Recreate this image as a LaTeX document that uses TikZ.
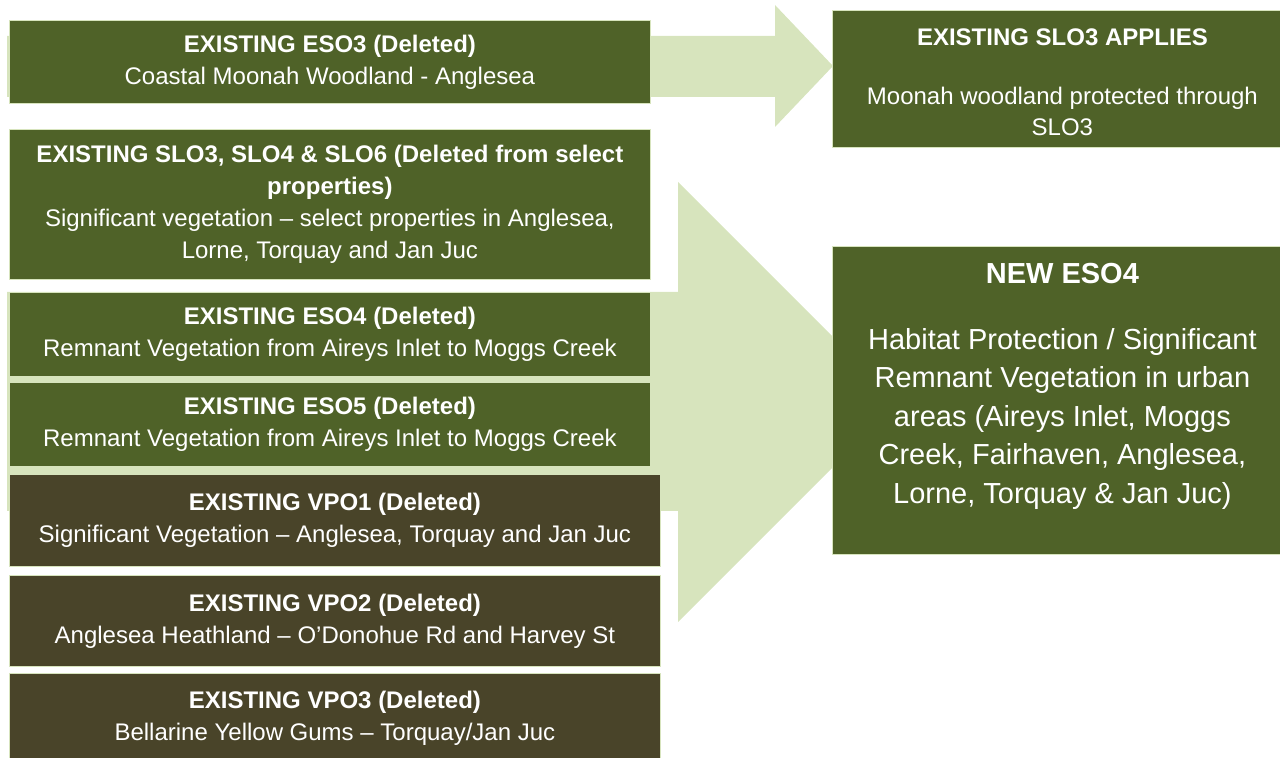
\documentclass[tikz,border=0pt]{standalone}
\usepackage{fontspec}
\setmainfont{Liberation Sans}

\definecolor{olivebox}{HTML}{4F6228}
\definecolor{brownbox}{HTML}{494429}
\definecolor{arrowfill}{HTML}{D7E4BD}

\begin{document}
\begin{tikzpicture}[x=0.5pt,y=-0.5pt,
    box/.style={rectangle,fill=olivebox,draw=arrowfill,line width=0.4pt,
        text=white,align=center,inner sep=0pt,anchor=north west,
        font=\fontsize{12}{16}\selectfont},
    vpobox/.style={box,fill=brownbox}]
    \useasboundingbox (0,0) rectangle (1280,758);
    \clip (0,0) rectangle (1280,758);

    % block arrows
    \fill[arrowfill] (7,36) -- (775,36) -- (775,5) -- (833,66)
        -- (775,127) -- (775,97) -- (7,97) -- cycle;
    \fill[arrowfill] (7,292) -- (678,292) -- (678,182) -- (898,402)
        -- (678,622) -- (678,511) -- (7,511) -- cycle;

    % overlays being deleted
    \node[box,minimum width=320.5pt,minimum height=41.5pt] (eso3) at (9,20)
        {\textbf{EXISTING ESO3 (Deleted)}\\ Coastal Moonah Woodland - Anglesea};
    \node[box,minimum width=320.5pt,minimum height=75pt] (slo) at (9,129)
        {\textbf{EXISTING SLO3, SLO4 \& SLO6 (Deleted from select}\\
         \textbf{properties)}\\
         Significant vegetation – select properties in Anglesea,\\
         Lorne, Torquay and Jan Juc};
    \node[box,minimum width=320.5pt,minimum height=42pt] (eso4) at (9,292)
        {\textbf{EXISTING ESO4 (Deleted)}\\ Remnant Vegetation from Aireys Inlet to Moggs Creek};
    \node[box,minimum width=320.5pt,minimum height=42pt] (eso5) at (9,382)
        {\textbf{EXISTING ESO5 (Deleted)}\\ Remnant Vegetation from Aireys Inlet to Moggs Creek};
    \node[vpobox,minimum width=325.5pt,minimum height=46pt] (vpo1) at (9,474)
        {\textbf{EXISTING VPO1 (Deleted)}\\ Significant Vegetation – Anglesea, Torquay and Jan Juc};
    \node[vpobox,minimum width=325.5pt,minimum height=45.5pt] (vpo2) at (9,575)
        {\textbf{EXISTING VPO2 (Deleted)}\\ Anglesea Heathland – O’Donohue Rd and Harvey St};
    \node[vpobox,minimum width=325.5pt,minimum height=44.5pt] (vpo3) at (9,673)
        {\textbf{EXISTING VPO3 (Deleted)}\\ Bellarine Yellow Gums – Torquay/Jan Juc};

    % outcome
    \node[box,minimum width=230pt,minimum height=68.5pt,
          font=\fontsize{12}{15.5}\selectfont] (slo3) at (832,10)
        {\rule{0pt}{11.6pt}\textbf{EXISTING SLO3 APPLIES}\\[14pt]
         Moonah woodland protected through\\ SLO3};
    \node[box,minimum width=230pt,minimum height=154pt,
          font=\fontsize{14.5}{19.3}\selectfont] (neweso4) at (832,246)
        {\textbf{NEW ESO4}\\[13.7pt]
         Habitat Protection / Significant\\
         Remnant Vegetation in urban\\
         areas (Aireys Inlet, Moggs\\
         Creek, Fairhaven, Anglesea,\\
         Lorne, Torquay \& Jan Juc)\\[-2pt]\mbox{}};
\end{tikzpicture}
\end{document}
